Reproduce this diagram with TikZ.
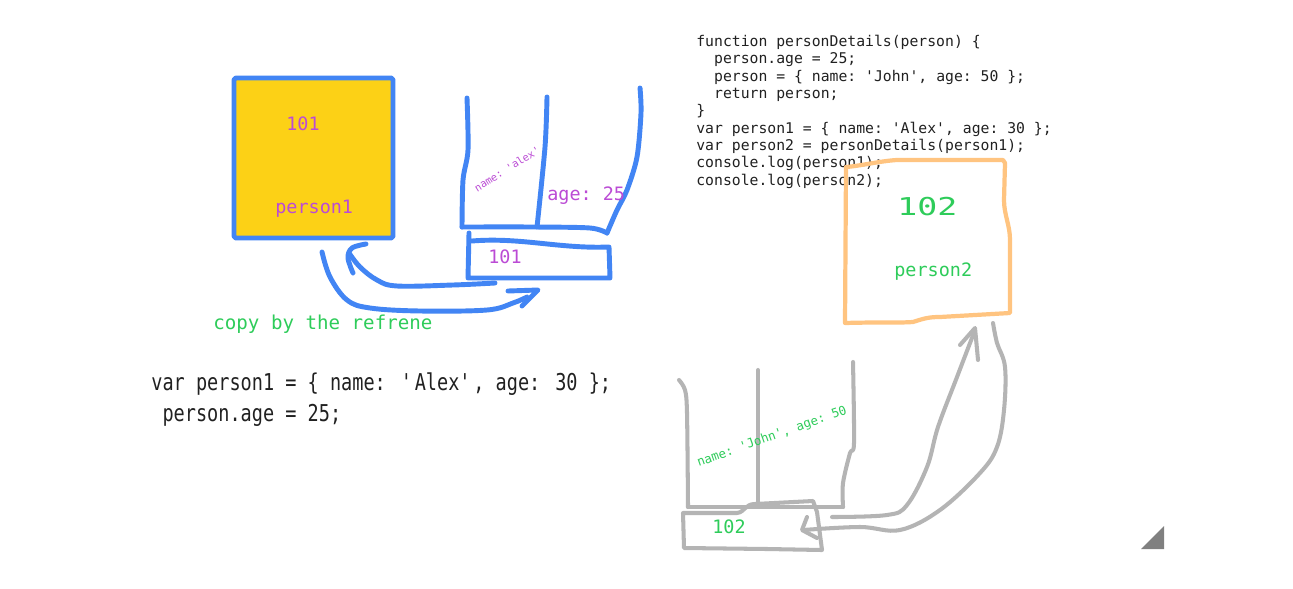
\documentclass[tikz,border=0pt]{standalone}
\usepackage{fontspec}
\setmonofont{DejaVu Sans Mono}
\newfontfamily\narrowmono{DejaVu Sans Mono}[FakeStretch=0.8]
\newcommand{\sq}{\textquotesingle}

\definecolor{penblue}{RGB}{66,133,244}
\definecolor{boxyellow}{RGB}{252,209,22}
\definecolor{txtpurple}{RGB}{187,75,213}
\definecolor{txtgreen}{RGB}{46,204,90}
\definecolor{penorange}{RGB}{255,196,128}
\definecolor{pengray}{RGB}{180,180,180}
\definecolor{cornergray}{RGB}{128,128,128}
\definecolor{codeink}{RGB}{33,33,33}

\tikzset{
	bluepen/.style={draw=penblue, line width=2.8pt, line cap=round, line join=round},
	graypen/.style={draw=pengray, line width=2.3pt, line cap=round, line join=round},
	orangepen/.style={draw=penorange, line width=2.4pt, line cap=round, line join=round},
	purpletxt/.style={text=txtpurple, inner sep=0pt, font=\ttfamily\fontsize{10.5}{12}\selectfont},
	greentxt/.style={text=txtgreen, inner sep=0pt, font=\ttfamily\fontsize{10.5}{12}\selectfont},
}

\begin{document}
\begin{tikzpicture}[x=0.02cm, y=-0.02cm]
	\fill[white] (0,0) rectangle (1293,588);
	\useasboundingbox (0,0) rectangle (1293,588);

	\coordinate (R1) at (495,283);
	\coordinate (T1) at (349,253);
	\coordinate (S1) at (322,252);
	\coordinate (T2) at (527,297);
	\coordinate (R2) at (832,517);
	\coordinate (T3) at (975,330);
	\coordinate (S2) at (993,323);
	\coordinate (T4) at (803,530);

	\draw [bluepen, fill=boxyellow, rounded corners=1pt] (234,78) rectangle (393,238);
	\node [purpletxt, anchor=base west] (addr1) at (286,130) {101};
	\node [purpletxt, anchor=base west] (var1) at (275,213) {person1};

	\draw [bluepen] plot [smooth, tension=.5] coordinates {(467,98) (468,150) (463,180) (462,227)};
	\draw [bluepen] plot [smooth, tension=.5] coordinates {(547,97) (545,147) (537,227)};
	\draw [bluepen] plot [smooth, tension=.5] coordinates {(462,227) (533,227) (590,228) (607,233)};
	\draw [bluepen] plot [smooth, tension=.5] coordinates {(607,233) (617,210) (627,190) (637,157) (641,113) (640,88)};
	\draw [bluepen] (472,241) .. controls (520,237) and (560,249) .. (609,247) -- (610,278) -- (468,278) -- (469,233);
	\node [purpletxt, font=\ttfamily\fontsize{5.9}{7}\selectfont, rotate=32] (name1) at (507,169) {name: \sq alex\sq};
	\node [purpletxt, anchor=base west] (age1) at (547,200) {age: 25};
	\node [purpletxt, anchor=base west] (ref1) at (488,263) {101};

	\draw [bluepen] plot [smooth, tension=.6] coordinates {(R1) (453,285) (397,286) (377,280) (360,267) (T1)};
	\draw [bluepen] plot [smooth, tension=.6] coordinates {(366,244) (352,248) (348,258) (353,273)};
	\draw [bluepen] plot [smooth, tension=.6] coordinates {(S1) (330,277) (347,300) (370,308) (420,311) (487,310) (513,303) (T2)};
	\draw [bluepen] (508,291) -- (538,290) -- (522,306);
	\node [greentxt, anchor=base west, font=\ttfamily\fontsize{10.9}{12}\selectfont] (note) at (213,329) {copy by the refrene};

	\node [anchor=base west, align=left, inner sep=0pt, text=codeink, font=\narrowmono\fontsize{13.2}{17.6}\selectfont] (snippet) at (151,421)
		{var person1 = \{ name: \sq Alex\sq, age: 30 \};\\ \ person.age = 25;};

	\node [anchor=base west, align=left, inner sep=0pt, text=codeink, font=\ttfamily\fontsize{8.4}{9.86}\selectfont] (code) at (696,185)
		{function personDetails(person) \{\\
		\phantom{xx}person.age = 25;\\
		\phantom{xx}person = \{ name: \sq John\sq, age: 50 \};\\
		\phantom{xx}return person;\\
		\}\\
		var person1 = \{ name: \sq Alex\sq, age: 30 \};\\
		var person2 = personDetails(person1);\\
		console.log(person1);\\
		console.log(person2);};

	\draw [orangepen] (846,167) -- (845,323) .. controls (880,322) and (900,323) .. (913,322)
		.. controls (925,318) and (930,317) .. (940,317) -- (1010,313) -- (1010,240)
		.. controls (1010,225) and (1004,215) .. (1004,200) -- (1005,163) -- (1003,160) -- (897,160)
		.. controls (880,161) and (860,166) .. (846,167);
	\node [greentxt, anchor=base west, font=\ttfamily\fontsize{14}{16}\selectfont, xscale=1.35] (addr2) at (897,215) {102};
	\node [greentxt, anchor=base west] (var2) at (894,276) {person2};

	\draw [graypen] plot [smooth, tension=.5] coordinates {(679,380) (685,390) (687,413) (688,507)};
	\draw [graypen] (758,370) -- (758,503);
	\draw [graypen] plot [smooth, tension=.5] coordinates {(853,362) (854,443) (850,453) (843,483) (843,507)};
	\draw [graypen] (688,507) -- (843,507);
	\draw [graypen] (684,548) -- (683,513) -- (737,513) .. controls (745,512) and (745,504) .. (755,504)
		-- (813,501) -- (817,512) -- (822,550) -- (767,549) -- cycle;
	\node [greentxt, font=\ttfamily\fontsize{7.1}{8}\selectfont, rotate=19.5] (name2) at (772,437) {name: \sq John\sq, age: 50};
	\node [greentxt, anchor=base west] (ref2) at (712,533) {102};

	\draw [graypen] plot [smooth, tension=.6] coordinates {(R2) (887,515) (907,505) (927,467) (938,427) (957,377) (T3)};
	\draw [graypen] (960,345) -- (975,328) -- (978,360);
	\draw [graypen] plot [smooth, tension=.6] coordinates {(S2) (997,343) (1005,367) (1004,410) (997,447) (980,473) (940,510) (900,530) (860,527) (T4)};
	\draw [graypen] (807,517) -- (802,530) -- (817,538);

	\fill [cornergray] (1141,549) -- (1164,526) -- (1164,549) -- cycle;
\end{tikzpicture}
\end{document}
